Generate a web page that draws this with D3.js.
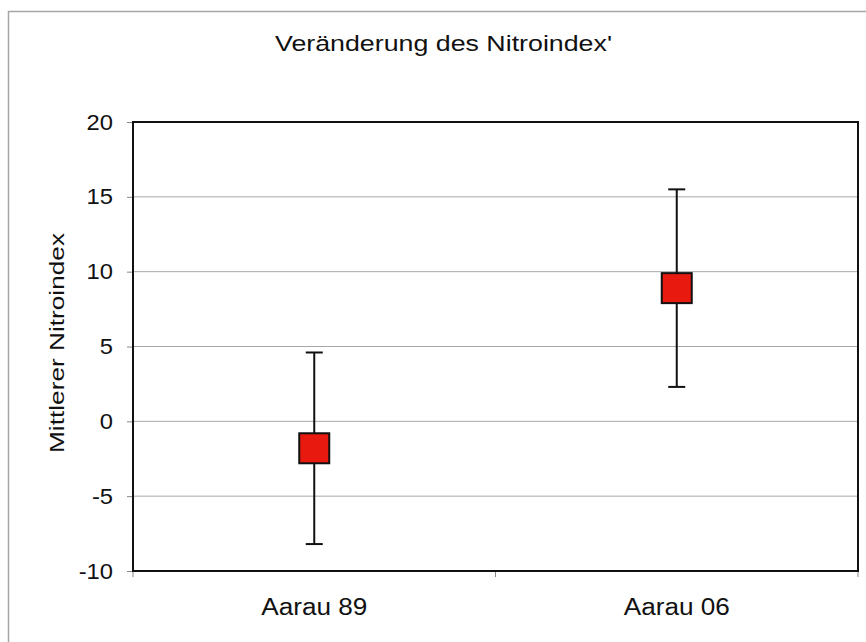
<!DOCTYPE html>
<html><head><meta charset="utf-8">
<script src="https://cdn.jsdelivr.net/npm/d3@7"></script>
<style>body{margin:0;background:#fff;} svg{display:block;font-family:Arial,"Liberation Sans",sans-serif;}</style>
</head><body>
<svg id="c" width="866" height="642"></svg>
<script>
const categories = ["Aarau 89", "Aarau 06"];
const means = [-1.8, 8.9];
const upper = [4.6, 15.5];
const lower = [-8.2, 2.3];
const yTicks = [-10, -5, 0, 5, 10, 15, 20];
const title = "Veränderung des Nitroindex'";
const yLabel = "Mittlerer Nitroindex";

const svg = d3.select("#c");
const m = {l:133, t:122, r:858, b:571};
svg.append("rect").attr("x",8.5).attr("y",11.5).attr("width",900).attr("height",700)
  .attr("fill","none").attr("stroke","#a6a6a6").attr("stroke-width",1.5);

const x = d3.scaleBand().domain(categories).range([m.l, m.r]);
const y = d3.scaleLinear().domain([-10, 20]).range([m.b, m.t]);

// gridlines
svg.append("g").selectAll("line").data(yTicks.filter(v => v > -10 && v < 20)).join("line")
  .attr("x1", m.l).attr("x2", m.r).attr("y1", d => y(d)).attr("y2", d => y(d))
  .attr("stroke", "#a8a8a8").attr("stroke-width", 1);

// y axis
const ya = svg.append("g").attr("transform", `translate(${m.l},0)`)
  .call(d3.axisLeft(y).tickValues(yTicks).tickFormat(d => String(d)).tickSize(6).tickPadding(14));
ya.select(".domain").remove();
ya.selectAll(".tick line").attr("stroke", "#888");
ya.selectAll(".tick text").attr("font-size", 22).attr("fill", "#111")
  .attr("font-family","Arial, Liberation Sans, sans-serif")
  .each(function(){ const w = this.getComputedTextLength(); d3.select(this).attr("textLength", w*1.08).attr("lengthAdjust","spacingAndGlyphs"); });

// x axis labels
const xa = svg.append("g").attr("transform", `translate(0,${m.b})`)
  .call(d3.axisBottom(x).tickSize(0).tickPadding(0));
xa.select(".domain").remove();
xa.selectAll(".tick text").attr("font-size", 23).attr("fill", "#111").attr("dy", null).attr("y", 44)
  .attr("font-family","Arial, Liberation Sans, sans-serif")
  .attr("textLength", 106).attr("lengthAdjust","spacingAndGlyphs");
// x tick marks at band boundaries
const bounds = [m.l, x(categories[1]), m.r];
svg.append("g").selectAll("line").data(bounds).join("line")
  .attr("x1", d => d).attr("x2", d => d).attr("y1", m.b).attr("y2", m.b + 6)
  .attr("stroke", "#888");

// plot frame
svg.append("rect").attr("x", m.l).attr("y", m.t).attr("width", m.r - m.l).attr("height", m.b - m.t)
  .attr("fill", "none").attr("stroke", "#111").attr("stroke-width", 2);

// error bars
const g = svg.append("g");
categories.forEach((c, i) => {
  const cx = x(c) + x.bandwidth() / 2;
  g.append("line").attr("x1", cx).attr("x2", cx).attr("y1", y(upper[i])).attr("y2", y(lower[i]))
    .attr("stroke", "#111").attr("stroke-width", 2);
  [upper[i], lower[i]].forEach(v => {
    g.append("line").attr("x1", cx - 8.5).attr("x2", cx + 8.5).attr("y1", y(v)).attr("y2", y(v))
      .attr("stroke", "#111").attr("stroke-width", 2);
  });
  g.append("rect").attr("x", cx - 15).attr("y", y(means[i]) - 15).attr("width", 30).attr("height", 30)
    .attr("fill", "#e8190f").attr("stroke", "#111").attr("stroke-width", 2);
});

// title
svg.append("text").attr("x", 443.5).attr("y", 51).attr("text-anchor", "middle")
  .attr("font-size", 22).attr("fill", "#111")
  .attr("textLength", 337).attr("lengthAdjust","spacingAndGlyphs").text(title);
// y label
svg.append("text").attr("transform", `translate(64,343) rotate(-90)`)
  .attr("text-anchor", "middle").attr("font-size", 21).attr("fill", "#111")
  .attr("textLength", 220).attr("lengthAdjust","spacingAndGlyphs").text(yLabel);
</script>
</body></html>
